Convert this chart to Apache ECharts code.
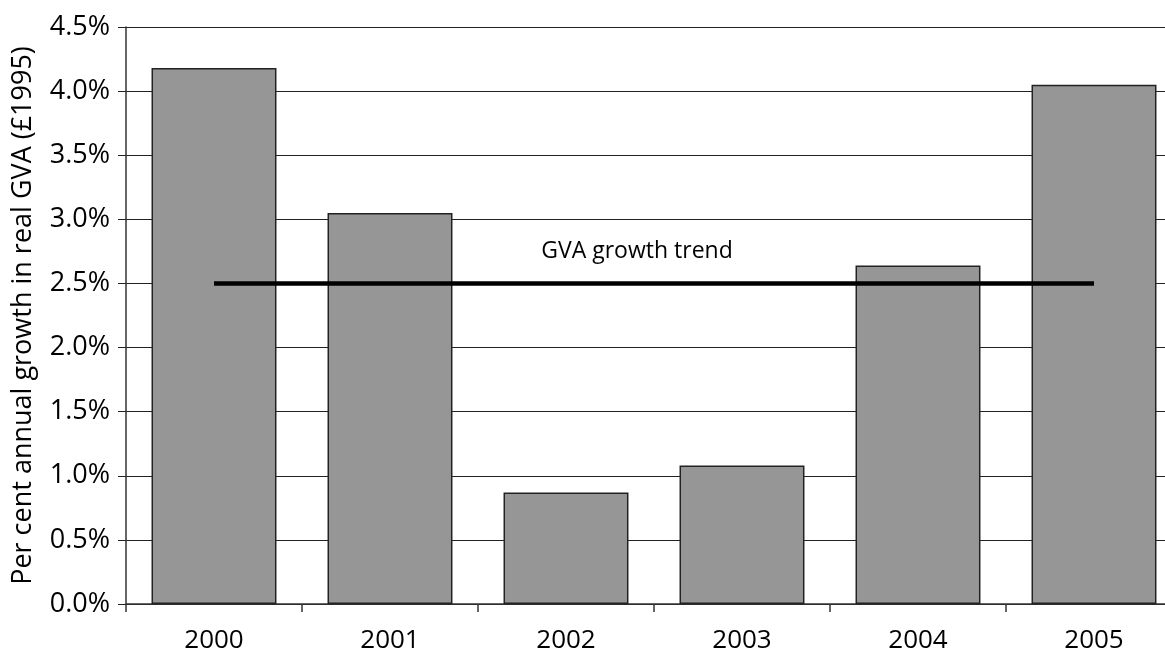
<!DOCTYPE html>
<html>
<head>
<meta charset="utf-8">
<script src="https://cdn.jsdelivr.net/npm/echarts@6/dist/echarts.min.js"></script>
<style>
  html, body { margin: 0; padding: 0; background: #fff; }
  #chart { width: 1165px; height: 659px; }
</style>
</head>
<body>
<div id="chart"></div>
<script>
// Annual growth in real GVA, per cent
const years = ['2000', '2001', '2002', '2003', '2004', '2005'];
const growth = [4.18, 3.05, 0.87, 1.08, 2.64, 4.05];
const trendLevel = 2.5;
const trendLabel = 'GVA growth trend';
const yTitle = 'Per cent annual growth in real GVA (£1995)';

const FONT = 'Open Sans';
const trend = years.map(() => trendLevel);

const chart = echarts.init(document.getElementById('chart'), null, { renderer: 'canvas' });
chart.setOption({
  animation: false,
  backgroundColor: '#ffffff',
  textStyle: { fontFamily: FONT, color: '#000' },
  // the plot runs on past the right edge of the canvas
  grid: { left: 126, right: -17, top: 27, bottom: 55, containLabel: false, outerBoundsMode: 'none' },
  xAxis: {
    type: 'category',
    data: years,
    boundaryGap: true,
    axisLine: { lineStyle: { color: '#333', width: 1.5 } },
    axisTick: { show: true, length: 8, lineStyle: { color: '#333', width: 1.5 } },
    axisLabel: { fontFamily: FONT, fontSize: 26, color: '#000', margin: 24 }
  },
  yAxis: {
    type: 'value',
    min: 0,
    max: 4.5,
    interval: 0.5,
    name: yTitle,
    nameLocation: 'middle',
    nameGap: 89,
    nameTextStyle: { fontFamily: FONT, fontSize: 27, color: '#000' },
    axisLine: { show: true, lineStyle: { color: '#333', width: 1.5 } },
    axisTick: { show: true, length: 8, lineStyle: { color: '#222', width: 1 } },
    axisLabel: {
      fontFamily: FONT, fontSize: 27, color: '#000', margin: 16,
      formatter: v => v.toFixed(1) + '%'
    },
    splitLine: { show: true, lineStyle: { color: '#222', width: 1 } }
  },
  series: [
    {
      type: 'bar',
      data: growth,
      barCategoryGap: '29%',
      itemStyle: { color: '#969696', borderColor: '#222', borderWidth: 1.5 },
      z: 2
    },
    {
      type: 'line',
      data: trend,
      symbol: 'none',
      lineStyle: { color: '#000', width: 4.5 },
      markPoint: {
        symbol: 'circle',
        symbolSize: 0,
        silent: true,
        data: [{ coord: ['2002', trendLevel] }],
        label: {
          show: true, position: 'inside', offset: [71, -32],
          formatter: trendLabel, fontFamily: FONT, fontSize: 23, color: '#000'
        }
      },
      z: 3
    }
  ]
});
</script>
</body>
</html>
